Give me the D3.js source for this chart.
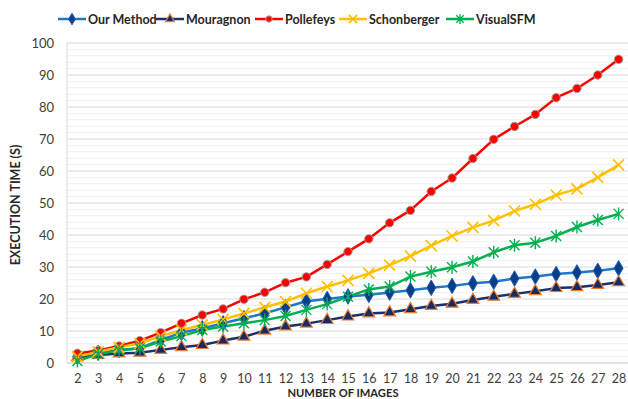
<!DOCTYPE html>
<html>
<head>
<meta charset="utf-8">
<script src="https://cdn.jsdelivr.net/npm/d3@7/dist/d3.min.js"></script>
<style>
  html, body { margin: 0; padding: 0; background: #fff; }
  svg { display: block; }
  text { font-family: Lato, "Open Sans", sans-serif; }
</style>
</head>
<body>
<svg id="chart" width="628" height="399"></svg>
<script>
// Number of images processed
const images = [2,3,4,5,6,7,8,9,10,11,12,13,14,15,16,17,18,19,20,21,22,23,24,25,26,27,28];

// Execution time (s) per method
const ourMethod  = [2.0,3.2,4.1,4.6,7.2,9.5,10.8,12.4,14.0,15.5,17.4,19.3,20.0,20.8,21.3,22.0,22.7,23.5,24.1,24.9,25.4,26.4,27.0,27.8,28.3,28.8,29.6];
const mouragnon  = [1.8,2.5,3.0,3.2,4.1,4.9,5.6,7.0,8.2,10.1,11.4,12.3,13.4,14.5,15.5,15.8,16.8,17.8,18.5,19.7,20.7,21.6,22.4,23.4,23.7,24.4,25.2];
const pollefeys  = [3.0,3.9,5.3,7.0,9.5,12.4,15.0,16.9,19.9,22.1,25.1,26.9,30.8,34.8,38.8,43.8,47.7,53.6,57.8,63.9,69.9,73.9,77.7,82.9,85.8,90.0,94.9];
const schonberger= [2.0,3.5,4.9,6.1,8.4,10.3,11.9,13.6,15.5,17.4,19.2,21.8,23.9,25.8,28.0,30.6,33.4,36.7,39.7,42.4,44.5,47.5,49.6,52.5,54.4,58.0,61.9];
const visualSFM  = [0.6,2.8,3.9,4.6,6.7,8.4,10.3,11.4,12.4,13.4,14.7,16.6,18.4,20.7,23.0,23.9,27.0,28.5,29.9,31.7,34.6,36.8,37.6,39.7,42.5,44.7,46.6];

// Axis ticks
const yTicks = [0,10,20,30,40,50,60,70,80,90,100];

const seriesNames = ["Our Method","Mouragnon","Pollefeys","Schonberger","VisualSFM"];

const svg = d3.select("#chart");
const plotLeft = 67, plotRight = 629, plotTop = 43, plotBottom = 363;

const x = d3.scalePoint().domain(images).range([plotLeft, plotRight]).padding(0.5);
const y = d3.scaleLinear().domain([0, 100]).range([plotBottom, plotTop]);

// Gridlines: minor every 2, major every 10
const minor = d3.range(2, 100, 2).filter(v => v % 10 !== 0);
svg.append("g").selectAll("line").data(minor).join("line")
  .attr("x1", plotLeft).attr("x2", 628)
  .attr("y1", d => y(d)).attr("y2", d => y(d))
  .attr("stroke", "#f0f0f0").attr("stroke-width", 1);
svg.append("g").selectAll("line").data(yTicks.filter(v => v > 0)).join("line")
  .attr("x1", plotLeft).attr("x2", 628)
  .attr("y1", d => y(d)).attr("y2", d => y(d))
  .attr("stroke", "#d9d9d9").attr("stroke-width", 1);

// Plot frame: left and bottom axis lines
svg.append("line").attr("x1", plotLeft).attr("x2", plotLeft).attr("y1", plotTop).attr("y2", plotBottom)
  .attr("stroke", "#d9d9d9");
svg.append("line").attr("x1", plotLeft).attr("x2", 628).attr("y1", plotBottom).attr("y2", plotBottom)
  .attr("stroke", "#d9d9d9").attr("stroke-width", 1.5);

// Y axis labels
const yAxis = d3.axisLeft(y).tickValues(yTicks).tickSize(0).tickPadding(13);
const gy = svg.append("g").attr("transform", `translate(${plotLeft},0)`).call(yAxis);
gy.select(".domain").remove();
gy.selectAll("text").attr("font-size", 13).attr("fill", "#404040")
  .style("font-family", "Lato, sans-serif");

// X axis labels
const xAxis = d3.axisBottom(x).tickSize(0).tickPadding(11);
const gx = svg.append("g").attr("transform", `translate(0,${plotBottom})`).call(xAxis);
gx.select(".domain").remove();
gx.selectAll("text").attr("font-size", 12.5).attr("fill", "#404040")
  .style("font-family", "Lato, sans-serif");

// Axis titles
svg.append("text").attr("x", 343).attr("y", 396.5).attr("text-anchor", "middle")
  .attr("font-size", 11.2).attr("font-weight", "bold").attr("fill", "#262626")
  .text("NUMBER OF IMAGES");
svg.append("text").attr("transform", "translate(20,205) rotate(-90)")
  .attr("text-anchor", "middle").attr("font-size", 12.5).attr("font-weight", "bold")
  .attr("fill", "#262626").text("EXECUTION TIME (S)");

// Marker shapes (k scales the marker for the legend)
const xPath = s => `M${-s},${-s}L${s},${s}M${-s},${s}L${s},${-s}`;
const starPath = s => `M${-s},${-s}L${s},${s}M${-s},${s}L${s},${-s}M0,${-s*1.3}L0,${s*1.3}`;

const series = [
  { name: seriesNames[0], values: ourMethod, line: "#1F77C8",
    marker: (g, k) => g.append("path").attr("d", d3.symbol(d3.symbolDiamond, 70 * k * k)()).attr("fill", "#0B3E8A").attr("stroke", "#1F5FB0").attr("stroke-width", 1) },
  { name: seriesNames[1], values: mouragnon, line: "#1F2F6B",
    marker: (g, k) => g.append("path").attr("d", d3.symbol(d3.symbolTriangle, 60 * k * k)()).attr("fill", "#142C64").attr("stroke", "#ED7D31").attr("stroke-width", 1.2) },
  { name: seriesNames[2], values: pollefeys, line: "#FF0000",
    marker: (g, k) => g.append("circle").attr("r", 4.2 * k).attr("fill", "#FF0000").attr("stroke", "#A0A0A0").attr("stroke-width", 1) },
  { name: seriesNames[3], values: schonberger, line: "#FFC000",
    marker: (g, k) => g.append("path").attr("d", xPath(5.5 * k)).attr("fill", "none").attr("stroke", "#FFC000").attr("stroke-width", 1.6) },
  { name: seriesNames[4], values: visualSFM, line: "#00B050",
    marker: (g, k) => g.append("path").attr("d", starPath(5 * k)).attr("fill", "none").attr("stroke", "#00B050").attr("stroke-width", 1.4) }
];

const line = d3.line().x((d, i) => x(images[i])).y(d => y(d));

// Draw lines first, then markers on top, in series order
series.forEach(s => {
  svg.append("path").datum(s.values).attr("d", line)
    .attr("fill", "none").attr("stroke", s.line).attr("stroke-width", 2.5)
    .attr("stroke-linejoin", "round");
});
series.forEach(s => {
  const g = svg.append("g");
  s.values.forEach((v, i) => {
    const m = g.append("g").attr("transform", `translate(${x(images[i])},${y(v)})`);
    s.marker(m, 1);
  });
});

// Legend
const legendX = [58, 156, 255, 339, 446];
series.forEach((s, i) => {
  const g = svg.append("g").attr("transform", `translate(${legendX[i]},19)`);
  g.append("line").attr("x1", 0).attr("x2", 28).attr("y1", 0).attr("y2", 0)
    .attr("stroke", s.line).attr("stroke-width", 2.5);
  const m = g.append("g").attr("transform", "translate(14,0)");
  s.marker(m, 0.75);
  g.append("text").attr("x", 30).attr("y", 4.5).attr("font-size", 12.5)
    .attr("font-weight", "bold").attr("fill", "#262626").text(s.name);
});
</script>
</body>
</html>
